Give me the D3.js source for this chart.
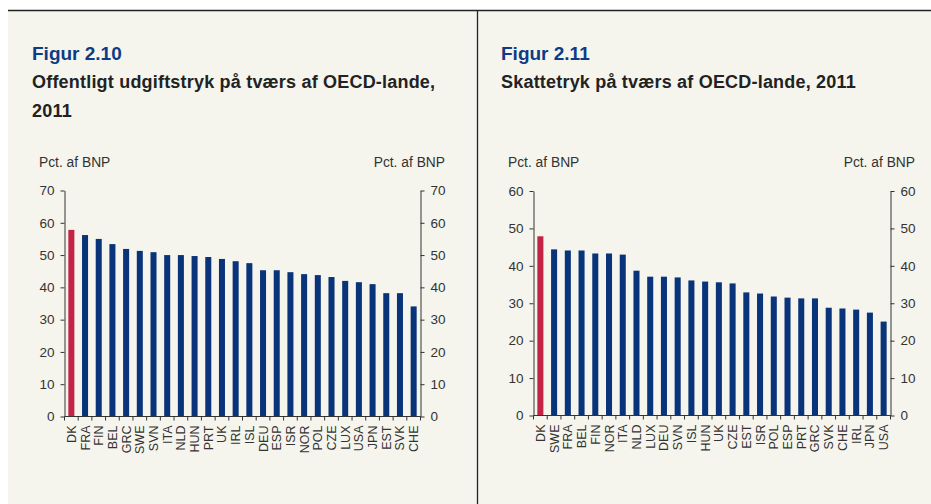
<!DOCTYPE html>
<html>
<head>
<meta charset="utf-8">
<script src="https://cdn.jsdelivr.net/npm/d3@7"></script>
<style>
body { margin: 0; background: #fff; font-family: Arial, "Liberation Sans", sans-serif; }
.fig { fill: #0d3c85; font-weight: bold; font-size: 19px; }
.sub { fill: #222; font-weight: bold; font-size: 18px; letter-spacing: 0.2px; }
.unit { fill: #333; font-size: 13.8px; }
.axis text { fill: #333; font-size: 13.5px; font-family: Arial, "Liberation Sans", sans-serif; }
.axis path, .axis line { stroke: #333; }
.cat text { font-size: 12.5px; }
</style>
</head>
<body>
<script>
//data
var countries1 = ["DK", "FRA", "FIN", "BEL", "GRC", "SWE", "SVN", "ITA", "NLD", "HUN", "PRT", "UK", "IRL",
    "ISL", "DEU", "ESP", "ISR", "NOR", "POL", "CZE", "LUX", "USA", "JPN", "EST", "SVK", "CHE"];
var values1 = [57.8, 56.2, 55.0, 53.4, 51.9, 51.3, 50.9, 50.0, 50.0, 49.7, 49.4, 48.8, 48.1,
    47.5, 45.3, 45.3, 44.7, 44.1, 43.8, 43.2, 42.0, 41.6, 41.0, 38.2, 38.2, 34.1];
var ticks1 = [0, 10, 20, 30, 40, 50, 60, 70];

var countries2 = ["DK", "SWE", "FRA", "BEL", "FIN", "NOR", "ITA", "NLD", "LUX", "DEU", "SVN", "ISL", "HUN",
    "UK", "CZE", "EST", "ISR", "POL", "ESP", "PRT", "GRC", "SVK", "CHE", "IRL", "JPN", "USA"];
var values2 = [47.9, 44.4, 44.1, 44.1, 43.3, 43.3, 43.0, 38.7, 37.1, 37.1, 36.9, 36.1, 35.8,
    35.6, 35.3, 32.9, 32.6, 31.8, 31.5, 31.3, 31.3, 28.8, 28.6, 28.3, 27.5, 25.1];
var ticks2 = [0, 10, 20, 30, 40, 50, 60];

var blue = "#0a347a", red = "#c32443";

var W = 931, H = 504;
var svg = d3.select("body").append("svg").attr("width", W).attr("height", H);

// panel background and borders
svg.append("rect").attr("x", 8).attr("y", 10).attr("width", W - 8).attr("height", H - 10).attr("fill", "#f5f5ee");
svg.append("line").attr("x1", 8).attr("x2", W).attr("y1", 10.5).attr("y2", 10.5).attr("stroke", "#222").attr("stroke-width", 1.5);
svg.append("line").attr("x1", 477.5).attr("x2", 477.5).attr("y1", 10).attr("y2", H).attr("stroke", "#222").attr("stroke-width", 1.3);

function panel(opt) {
    var g = svg.append("g");
    g.append("text").attr("class", "fig").attr("x", opt.tx).attr("y", 60).text(opt.fig);
    opt.sub.forEach(function (s, i) {
        g.append("text").attr("class", "sub").attr("x", opt.tx).attr("y", 88 + i * 29).text(s);
    });
    g.append("text").attr("class", "unit").attr("x", opt.ux0).attr("y", 167).text("Pct. af BNP");
    g.append("text").attr("class", "unit").attr("x", opt.ux1).attr("y", 167)
        .attr("text-anchor", "end").text("Pct. af BNP");

    var x = d3.scaleBand().domain(opt.cats).range([opt.x0, opt.x1]).paddingInner(0.56).paddingOuter(0.28);
    var y = d3.scaleLinear().domain([0, opt.max]).range([opt.y0, opt.y1]);

    g.selectAll(".bar").data(opt.vals).enter().append("rect")
        .attr("x", function (d, i) { return x(opt.cats[i]); })
        .attr("y", function (d) { return y(d); })
        .attr("width", x.bandwidth())
        .attr("height", function (d) { return y(0) - y(d); })
        .attr("fill", function (d, i) { return opt.cats[i] === "DK" ? red : blue; });

    g.append("g").attr("class", "axis").attr("transform", "translate(" + opt.x0 + ",0)")
        .call(d3.axisLeft(y).tickValues(opt.ticks).tickSize(4).tickPadding(6).tickSizeOuter(0));
    g.append("g").attr("class", "axis").attr("transform", "translate(" + opt.x1 + ",0)")
        .call(d3.axisRight(y).tickValues(opt.ticks).tickSize(4).tickPadding(6).tickSizeOuter(0));

    // category axis: line with ticks between bars
    var xa = g.append("g").attr("class", "axis cat");
    xa.append("line").attr("x1", opt.x0).attr("x2", opt.x1).attr("y1", y(0)).attr("y2", y(0));
    xa.selectAll(".sep").data(d3.range(opt.cats.length + 1)).enter().append("line")
        .attr("x1", function (i) { return opt.x0 + (opt.x1 - opt.x0) * i / opt.cats.length; })
        .attr("x2", function (i) { return opt.x0 + (opt.x1 - opt.x0) * i / opt.cats.length; })
        .attr("y1", y(0)).attr("y2", y(0) + 4);
    xa.selectAll(".lab").data(opt.cats).enter().append("text")
        .attr("transform", function (d) {
            return "translate(" + (x(d) + x.bandwidth() / 2 + 4.5) + "," + (y(0) + 9) + ") rotate(-90)";
        })
        .attr("text-anchor", "end")
        .text(function (d) { return d; });
}

panel({
    fig: "Figur 2.10", sub: ["Offentligt udgiftstryk på tværs af OECD-lande,", "2011"],
    tx: 32, ux0: 39, ux1: 445,
    cats: countries1, vals: values1, ticks: ticks1, max: 70,
    x0: 64.5, x1: 420.5, y0: 416.5, y1: 190.5
});
panel({
    fig: "Figur 2.11", sub: ["Skattetryk på tværs af OECD-lande, 2011"],
    tx: 501, ux0: 508, ux1: 915,
    cats: countries2, vals: values2, ticks: ticks2, max: 60,
    x0: 533.5, x1: 890.5, y0: 415.5, y1: 191
});
</script>
</body>
</html>
